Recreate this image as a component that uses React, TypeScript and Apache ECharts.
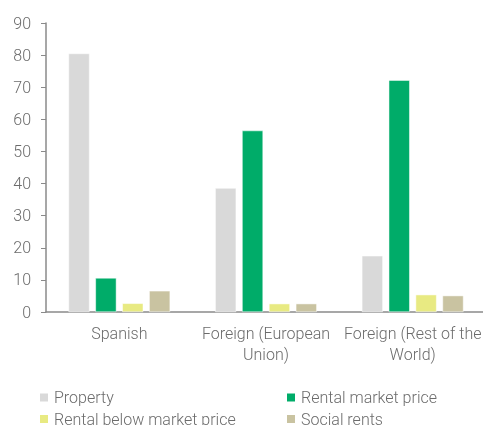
import React, { useEffect, useRef } from "react";
import * as echarts from "echarts";

const categories = ["Spanish", "Foreign (European\nUnion)", "Foreign (Rest of the\nWorld)"];
const seriesNames = ["Property", "Rental market price", "Rental below market price", "Social rents"];
const property = [80.5, 38.6, 17.5];
const rentalMarket = [10.6, 56.5, 72.2];
const rentalBelow = [2.7, 2.6, 5.4];
const socialRents = [6.6, 2.6, 5.1];
const colors = ["#d9d9d9", "#00ac69", "#e8ea82", "#c9c3a1"];
const yTicks = [0, 90, 10];

export default function App() {
  const ref = useRef<HTMLDivElement>(null);
  useEffect(() => {
    if (!ref.current) return;
    const chart = echarts.init(ref.current, undefined, { renderer: "svg" });
    const values = [property, rentalMarket, rentalBelow, socialRents];
    const textStyle = { color: "#6b6b6b", fontFamily: "Roboto", fontWeight: 300 as any, fontSize: 16 };
    const legendBase = {
      orient: "vertical",
      top: 388.5,
      height: 60,
      padding: 0,
      itemWidth: 10,
      itemHeight: 10,
      itemGap: 3.5,
      icon: "rect",
      textStyle: { ...textStyle, lineHeight: 18 },
    };
    chart.setOption({
      animation: false,
      grid: { left: 46, right: 0, top: 23, bottom: 113, containLabel: false },
      legend: [
        { ...legendBase, data: [seriesNames[0], seriesNames[2]], left: 38 },
        { ...legendBase, data: [seriesNames[1], seriesNames[3]], left: 285 },
      ],
      xAxis: {
        type: "category",
        data: categories,
        axisLine: { lineStyle: { color: "#8a8a8a", width: 1.5 } },
        axisTick: { show: false },
        axisLabel: { ...textStyle, margin: 11, lineHeight: 21, interval: 0 },
      },
      yAxis: {
        type: "value",
        min: yTicks[0],
        max: yTicks[1],
        interval: yTicks[2],
        axisLine: { show: true, lineStyle: { color: "#8a8a8a", width: 1.5 } },
        axisTick: { show: true, length: 5, lineStyle: { color: "#8a8a8a", width: 1 } },
        splitLine: { show: false },
        axisLabel: { ...textStyle, margin: 15 },
      },
      series: seriesNames.map((name, i) => ({
        name,
        type: "bar",
        data: values[i],
        barWidth: 21,
        barGap: "28%",
        itemStyle: { color: colors[i], borderColor: "#ffffff", borderWidth: 0.5 },
      })),
    });
    return () => chart.dispose();
  }, []);
  return <div ref={ref} style={{ position: "fixed", left: 0, top: 0, width: 486, height: 425 }} />;
}
